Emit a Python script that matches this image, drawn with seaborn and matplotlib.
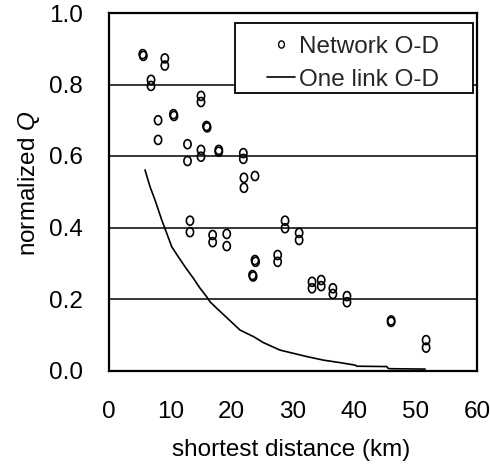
import numpy as np
import pandas as pd
import matplotlib
matplotlib.use("Agg")
import matplotlib.pyplot as plt
import seaborn as sns
from matplotlib.path import Path
from matplotlib.markers import MarkerStyle
from matplotlib.lines import Line2D
from matplotlib.patches import Rectangle

# ---- data ----
network_dist = [5.5, 5.6, 9.1, 9.1, 6.85, 6.85, 15.0, 15.0, 8.0, 10.5, 10.6,
                15.9, 16.0, 8.0, 12.8, 12.8, 15.0, 15.0, 17.9, 17.9, 21.9, 21.9,
                22.0, 22.0, 23.8, 13.2, 13.2, 16.9, 16.9, 19.2, 19.2, 23.8, 23.9,
                23.4, 23.5, 27.5, 27.5, 28.7, 28.7, 31.0, 31.0, 33.1, 33.1, 34.6,
                34.6, 36.5, 36.5, 38.8, 38.8, 46.0, 46.0, 51.7, 51.7]
network_q = [0.885, 0.880, 0.873, 0.853, 0.813, 0.796, 0.768, 0.751, 0.700, 0.717,
             0.712, 0.684, 0.680, 0.645, 0.633, 0.586, 0.617, 0.598, 0.617, 0.612,
             0.608, 0.592, 0.539, 0.511, 0.544, 0.419, 0.387, 0.379, 0.359, 0.382,
             0.348, 0.309, 0.304, 0.267, 0.263, 0.323, 0.304, 0.419, 0.398, 0.385,
             0.365, 0.248, 0.230, 0.253, 0.236, 0.230, 0.214, 0.208, 0.191, 0.140,
             0.136, 0.085, 0.064]

link_dist = [5.87, 6.69, 7.5, 8.6, 9.41, 10.23, 11.3, 12.4, 13.75, 14.85, 15.94,
             16.48, 17.57, 21.37, 23.54, 25.17, 27.9, 30.07, 32.25, 34.96, 37.68,
             40.13, 40.4, 45.3, 45.5, 45.86, 51.55]
link_q = [0.561, 0.514, 0.477, 0.421, 0.384, 0.346, 0.318, 0.290, 0.258, 0.230,
          0.206, 0.192, 0.174, 0.113, 0.095, 0.078, 0.057, 0.048, 0.039, 0.029,
          0.022, 0.015, 0.012, 0.011, 0.006, 0.005, 0.004]

x_ticks = [0, 10, 20, 30, 40, 50, 60]
y_ticks = [0.0, 0.2, 0.4, 0.6, 0.8, 1.0]
x_label = "shortest distance (km)"
y_label = "normalized $Q$"
legend_labels = ["Network O-D", "One link O-D"]

# ---- style ----
sns.set_style("white")
plt.rcParams["font.family"] = ["Liberation Sans", "DejaVu Sans"]
plt.rcParams["mathtext.fontset"] = "custom"
plt.rcParams["mathtext.rm"] = "Liberation Sans"
plt.rcParams["mathtext.it"] = "Liberation Sans:italic"
FS = 17.5

fig = plt.figure(figsize=(4.9, 4.67), dpi=100)
ax = fig.add_axes([109 / 490, 1 - 370.5 / 467, 368 / 490, 357.5 / 467])

theta = np.linspace(0, 2 * np.pi, 61)
ell = Path(np.column_stack([0.8 * np.cos(theta), np.sin(theta)]), closed=True)
ell_marker = MarkerStyle(ell)

df_net = pd.DataFrame({"dist": network_dist, "q": network_q})
df_link = pd.DataFrame({"dist": link_dist, "q": link_q})

sns.scatterplot(data=df_net, x="dist", y="q", marker=ell_marker, s=42,
                ax=ax, legend=False, zorder=4)
pts = ax.collections[-1]
pts.set_facecolor("none")
pts.set_edgecolor("black")
pts.set_linewidth(1.2)

sns.lineplot(data=df_link, x="dist", y="q", color="black", lw=1.2,
             estimator=None, sort=False, ax=ax, zorder=4)

ax.set_xlim(0, 60)
ax.set_ylim(0, 1.0)
ax.set_xticks(x_ticks)
ax.set_yticks(y_ticks)
ax.set_xticklabels([str(t) for t in x_ticks])
ax.set_yticklabels([f"{t:.1f}" for t in y_ticks])
ax.yaxis.grid(True, color="black", lw=1.1)
ax.xaxis.grid(False)
ax.set_axisbelow(True)

for s in ax.spines.values():
    s.set_visible(True)
    s.set_color("black")
    s.set_linewidth(1.6)

ax.tick_params(axis="x", direction="in", length=5, width=1.4, color="black",
               labelsize=FS, pad=22, labelcolor="black")
ax.tick_params(axis="y", direction="in", length=0, labelsize=FS, pad=19,
               labelcolor="black")

ax.set_xlabel(x_label, fontsize=FS, color="black")
ax.set_ylabel(y_label, fontsize=FS, color="black")
ax.xaxis.set_label_coords(0.494, -0.1916)
ax.yaxis.set_label_coords(-0.182, 0.5245)

# legend frame (white box covering grid)
ax.add_patch(Rectangle((0.3424, 0.776), 0.6467, 0.1958, transform=ax.transAxes,
                       facecolor="white", edgecolor="black", lw=1.3, zorder=5))
handles = [
    Line2D([], [], ls="none", marker=ell_marker, markersize=5.2,
           markerfacecolor="none", markeredgecolor="black", markeredgewidth=1.0),
    Line2D([], [], color="black", lw=1.2),
]
leg = ax.legend(handles, legend_labels, loc="upper left",
                bbox_to_anchor=(0.429, 0.9357), frameon=False, fontsize=FS,
                borderpad=0, borderaxespad=0, handlelength=1.14,
                handletextpad=0.2, labelspacing=0.45)
leg.set_zorder(6)

fig.savefig("out.png", dpi=100)
